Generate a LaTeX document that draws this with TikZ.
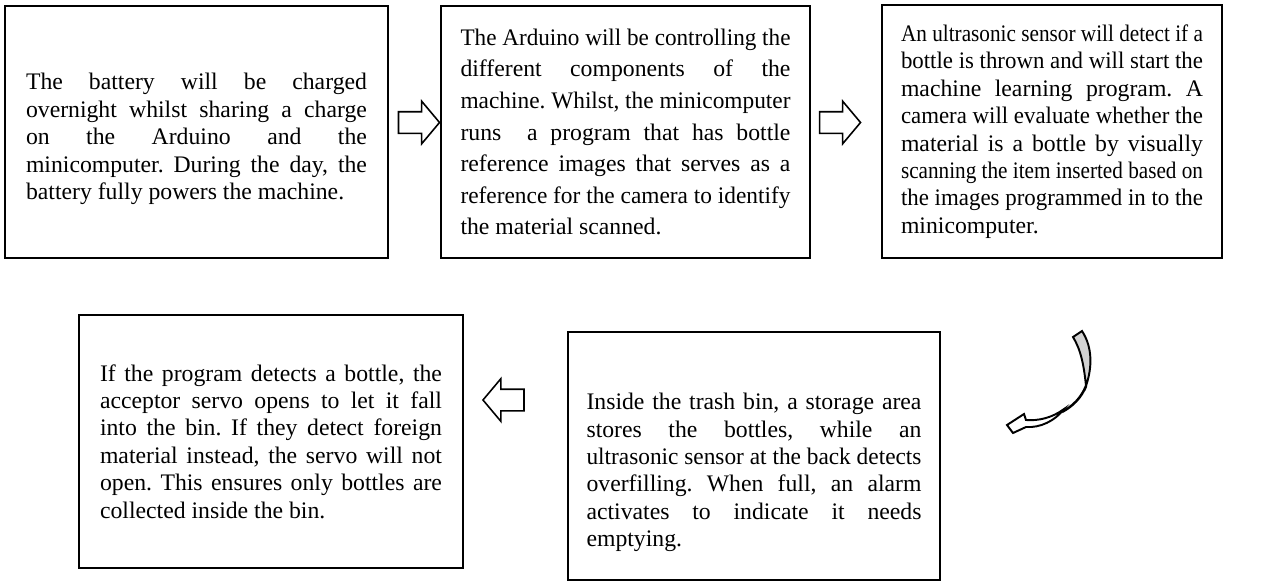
\documentclass[tikz,border=0pt]{standalone}
\usepackage{fontspec}
\setmainfont{Liberation Serif}
\usepackage{graphicx}
\usepackage{tikz}
\usetikzlibrary{shapes.arrows}

% one justified row of a box (squeezed if too long), and the short last row
\newsavebox{\rowbox}
\newcommand{\fullrow}[1]{\sbox{\rowbox}{#1}%
  \ifdim\wd\rowbox>\hsize
    \hbox to\hsize{\resizebox{\hsize}{\height}{#1}}%
  \else
    \hbox to\hsize{#1}%
  \fi}
\newcommand{\lastrow}[1]{\hbox{#1}}

\tikzset{
  stagebox/.style={draw, line width=1.1pt, inner sep=0pt, align=justify,
    font=\fontsize{13.5}{15.6}\selectfont\frenchspacing},
  blockarrow/.style={single arrow, draw, line width=0.9pt, inner xsep=0pt, inner ysep=0.2cm,
    minimum height=0.82cm, minimum width=0pt,
    single arrow head extend=0.21cm, single arrow tip angle=100}
}

\begin{document}
\begin{tikzpicture}[x=0.02cm, y=-0.02cm]
	\useasboundingbox (0,0) rectangle (1288,582);
	
	% top row of stages
	\node[stagebox, text width=6.82cm, minimum width=7.66cm, minimum height=5.04cm] (battery) at (196.5,132) {%
		\vskip0.06cm
		\fullrow{The battery will be charged}
		\fullrow{overnight whilst sharing a charge}
		\fullrow{on the Arduino and the}
		\fullrow{minicomputer. During the day, the}
		\lastrow{battery fully powers the machine.}};
	\node[stagebox, font=\fontsize{13.5}{18}\selectfont\frenchspacing, text width=6.6cm, minimum width=7.38cm, minimum height=5.04cm] (arduino) at (625.5,132) {%
		\fullrow{The Arduino will be controlling the}
		\fullrow{different components of the}
		\fullrow{machine. Whilst, the minicomputer}
		\fullrow{runs \ a program that has bottle}
		\fullrow{reference images that serves as a}
		\fullrow{reference for the camera to identify}
		\lastrow{the material scanned.}
		\vskip0.22cm};
	\node[stagebox, text width=6.04cm, minimum width=6.8cm, minimum height=5.06cm] (sensor) at (1052,131.5) {%
		\fullrow{An ultrasonic sensor will detect if a}
		\fullrow{bottle is thrown and will start the}
		\fullrow{machine learning program. A}
		\fullrow{camera will evaluate whether the}
		\fullrow{material is a bottle by visually}
		\fullrow{scanning the item inserted based on}
		\fullrow{the images programmed in to the}
		\lastrow{minicomputer.}};
	
	% bottom row of stages
	\node[stagebox, text width=6.84cm, minimum width=7.68cm, minimum height=5.06cm] (servo) at (271,441.5) {%
		\fullrow{If the program detects a bottle, the}
		\fullrow{acceptor servo opens to let it fall}
		\fullrow{into the bin. If they detect foreign}
		\fullrow{material instead, the servo will not}
		\fullrow{open. This ensures only bottles are}
		\lastrow{collected inside the bin.}};
	\node[stagebox, text width=6.7cm, minimum width=7.44cm, minimum height=4.96cm] (storage) at (754,456) {%
		\vskip0.44cm
		\fullrow{Inside the trash bin, a storage area}
		\fullrow{stores the bottles, while an}
		\fullrow{ultrasonic sensor at the back detects}
		\fullrow{overfilling. When full, an alarm}
		\fullrow{activates to indicate it needs}
		\lastrow{emptying.}};
	
	% block arrows between the boxes
	\node[blockarrow] (arrowA) at (414.5,122.5) {};
	\node[blockarrow] (arrowB) at (835.5,122.5) {};
	\node[blockarrow, shape border rotate=180] (arrowC) at (508,400) {};
	
	% curved arrow from the top row down to the storage box
	\draw[line width=1.1pt, fill=gray!35] (1073,337) -- (1082,331)
		.. controls (1093,348) and (1092,368) .. (1086,386)
		.. controls (1084,366) and (1081,350) .. cycle;
	\draw[line width=1.4pt] (1086,386) .. controls (1081,398) and (1073,406) .. (1062,412);
	\draw[line width=1.1pt, fill=white] (1064,409)
		.. controls (1052,418) and (1038,421) .. (1026,420)
		-- (1024,414) -- (1007,425) -- (1013,433) -- (1026,427)
		.. controls (1040,428) and (1055,421) .. (1064,409) -- cycle;
\end{tikzpicture}
\end{document}
